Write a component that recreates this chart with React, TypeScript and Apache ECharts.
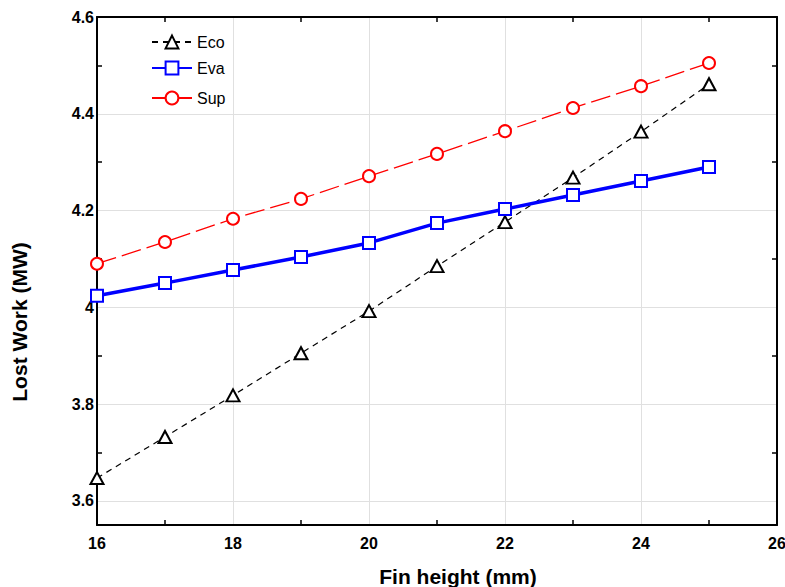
import React, { useEffect, useRef } from "react";
import * as echarts from "echarts";

const xValues = [16, 17, 18, 19, 20, 21, 22, 23, 24, 25];
const ecoValues = [3.647, 3.732, 3.818, 3.905, 3.992, 4.085, 4.176, 4.268, 4.363, 4.461];
const evaValues = [4.024, 4.05, 4.077, 4.104, 4.133, 4.174, 4.203, 4.232, 4.261, 4.29];
const supValues = [4.09, 4.135, 4.183, 4.224, 4.271, 4.317, 4.364, 4.412, 4.457, 4.505];
const yLabelValues = [3.6, 3.8, 4.0, 4.2, 4.4, 4.6];
const yMinorTicks = [3.7, 3.9, 4.1, 4.3, 4.5];
const xMinorTicks = [17, 19, 21, 23, 25];
const seriesNames = ["Eco", "Eva", "Sup"];

const FONT = "'Liberation Sans', Arial, sans-serif";

export default function App() {
  const ref = useRef<HTMLDivElement>(null);
  useEffect(() => {
    if (!ref.current) return;
    const chart = echarts.init(ref.current, undefined, { renderer: "svg" });
    const pairs = (ys: number[]) => xValues.map((x, i) => [x, ys[i]]);
    const axisLine = { show: true, onZero: false, lineStyle: { color: "#000", width: 2 } };
    const minorTick = (vals: number[]) => ({
      show: true,
      inside: true,
      length: 5,
      customValues: vals,
      lineStyle: { color: "#000", width: 1.5 },
    });
    const legendTops = [29, 55, 85];
    chart.setOption({
      animation: false,
      backgroundColor: "#fff",
      grid: {
        left: 97,
        right: 8,
        top: 17,
        bottom: 62,
        containLabel: false,
        outerBoundsMode: "none",
      },
      legend: seriesNames.map((n, i) => ({
        orient: "vertical",
        left: 146,
        top: legendTops[i],
        itemWidth: 40,
        itemHeight: 16,
        textStyle: { fontSize: 16, fontFamily: FONT, color: "#000" },
        data: [n],
      })),
      xAxis: [
        {
          type: "value",
          position: "bottom",
          min: 16,
          max: 26,
          interval: 2,
          axisLine,
          axisTick: minorTick(xMinorTicks),
          axisLabel: { fontSize: 16, fontWeight: "bold", fontFamily: FONT, color: "#000", margin: 10 },
          splitLine: { show: false },
          name: "Fin height (mm)",
          nameLocation: "middle",
          nameGap: 41,
          nameTextStyle: {
            fontSize: 21,
            fontWeight: "bold",
            fontFamily: FONT,
            color: "#000",
            padding: [0, 0, 0, 42],
          },
        },
        {
          type: "value",
          position: "top",
          min: 16,
          max: 26,
          interval: 2,
          axisLine,
          axisTick: minorTick(xMinorTicks),
          axisLabel: { show: false },
          splitLine: { show: false },
        },
        {
          type: "value",
          position: "bottom",
          min: 16,
          max: 26,
          interval: 2,
          axisLine: { show: false },
          axisTick: { show: false },
          axisLabel: { show: false },
          splitLine: { show: true, lineStyle: { color: "#e0e0e0", width: 1 } },
        },
      ],
      yAxis: [
        {
          type: "value",
          position: "left",
          min: 3.55,
          max: 4.6,
          axisLine,
          axisTick: minorTick(yMinorTicks),
          axisLabel: {
            customValues: yLabelValues,
            fontSize: 16,
            fontWeight: "bold",
            fontFamily: FONT,
            color: "#000",
            margin: 3,
            formatter: (v: number) => String(+v.toFixed(1)),
          },
          splitLine: { show: false },
          name: "Lost Work (MW)",
          nameLocation: "middle",
          nameGap: 67,
          nameTextStyle: {
            fontSize: 21,
            fontWeight: "bold",
            fontFamily: FONT,
            color: "#000",
            padding: [0, 102, 0, 0],
          },
        },
        {
          type: "value",
          position: "right",
          min: 3.55,
          max: 4.6,
          axisLine,
          axisTick: minorTick(yMinorTicks),
          axisLabel: { show: false },
          splitLine: { show: false },
        },
        {
          type: "value",
          position: "left",
          min: 3.55,
          max: 4.6,
          axisLine: { show: false },
          axisTick: { show: false, customValues: yLabelValues },
          axisLabel: { show: false },
          splitLine: { show: true, lineStyle: { color: "#e0e0e0", width: 1 } },
        },
      ],
      series: [
        {
          name: "Eco",
          type: "line",
          xAxisIndex: 0,
          yAxisIndex: 0,
          data: pairs(ecoValues),
          color: "#000",
          symbol: "emptyTriangle",
          symbolSize: [13, 12],
          itemStyle: { borderWidth: 1.5 },
          lineStyle: { color: "#000", width: 1.2, type: [6, 5] },
          z: 3,
        },
        {
          name: "Eva",
          type: "line",
          xAxisIndex: 0,
          yAxisIndex: 0,
          data: pairs(evaValues),
          color: "#0000ff",
          symbol: "emptyRect",
          symbolSize: 12,
          itemStyle: { borderWidth: 1.5 },
          lineStyle: { color: "#0000ff", width: 3.5 },
          z: 4,
        },
        {
          name: "Sup",
          type: "line",
          xAxisIndex: 0,
          yAxisIndex: 0,
          data: pairs(supValues),
          color: "#ff0000",
          symbol: "emptyCircle",
          symbolSize: 12,
          itemStyle: { borderWidth: 1.5 },
          lineStyle: { color: "#ff0000", width: 1.3, type: [20, 6] },
          z: 3,
        },
      ],
    });
    return () => chart.dispose();
  }, []);
  return (
    <div
      ref={ref}
      style={{ position: "fixed", left: 0, top: 0, width: 785, height: 587, background: "#fff" }}
    />
  );
}
